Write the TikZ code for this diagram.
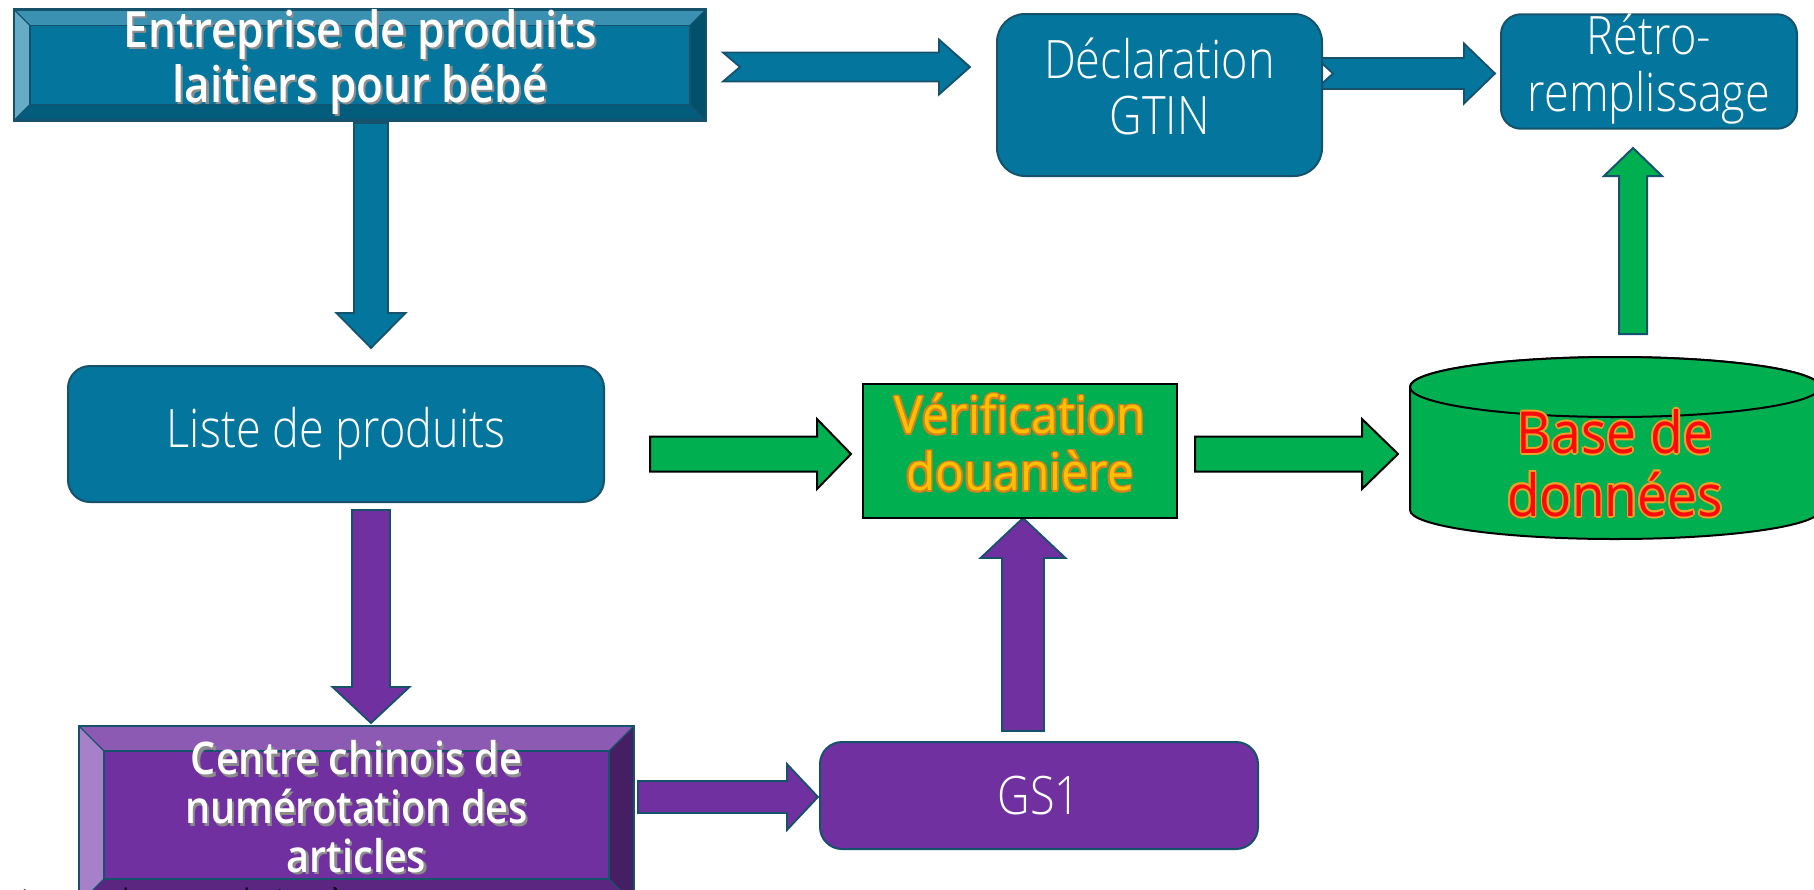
\documentclass[tikz,border=0pt]{standalone}
\usepackage{fontspec}
\setmainfont{Open Sans}
\IfFontExistsTF{Open Sans Light}
  {\newfontfamily\lightf{Open Sans Light}[FakeStretch=0.85]}
  {\newfontfamily\lightf{Open Sans}[FakeStretch=0.82]}
\newfontfamily\regf{Open Sans}[FakeStretch=0.92]
\newfontfamily\boldfx{Open Sans}[FakeStretch=0.85]
\IfFontExistsTF{Open Sans SemiBold}
  {\newfontfamily\boldf{Open Sans SemiBold}[FakeStretch=0.88]}
  {\IfFontExistsTF{Open Sans Semibold}
     {\newfontfamily\boldf{Open Sans Semibold}[FakeStretch=0.88]}
     {\def\boldf{\boldfx\bfseries}}}
\usetikzlibrary{calc}

\definecolor{tealfill}{RGB}{4,117,156}
\definecolor{tealborder}{RGB}{22,82,108}
\definecolor{tealtop}{RGB}{58,145,178}
\definecolor{tealleft}{RGB}{102,172,198}
\definecolor{tealright}{RGB}{3,80,108}
\definecolor{tealbot}{RGB}{3,92,124}
\definecolor{purplefill}{RGB}{112,48,160}
\definecolor{purpletop}{RGB}{140,90,178}
\definecolor{purpleleft}{RGB}{166,128,200}
\definecolor{purpleright}{RGB}{70,30,100}
\definecolor{purplebot}{RGB}{90,38,128}
\definecolor{greenfill}{RGB}{0,176,80}
\definecolor{goldtext}{RGB}{255,192,0}
\definecolor{goldglow}{RGB}{214,128,30}
\definecolor{redtext}{RGB}{255,10,10}
\definecolor{redglow}{RGB}{240,160,40}

% text with a coloured glow (8 offset copies underneath)
\newcommand\glowtext[3]{%
  \begingroup
  \def\gone##1##2{\makebox[0pt][l]{\hspace*{##1}\raisebox{##2}{\textcolor{#1}{\begin{tabular}{@{}c@{}}#3\end{tabular}}}}}%
  \gone{0.9pt}{0pt}\gone{-0.9pt}{0pt}\gone{0pt}{0.9pt}\gone{0pt}{-0.9pt}%
  \gone{0.65pt}{0.65pt}\gone{-0.65pt}{0.65pt}\gone{0.65pt}{-0.65pt}\gone{-0.65pt}{-0.65pt}%
  \textcolor{#2}{\begin{tabular}{@{}c@{}}#3\end{tabular}}%
  \endgroup}
% text with a soft dark shadow
\newcommand\shadowtext[1]{%
  \begingroup
  \def\gone##1##2{\makebox[0pt][l]{\hspace*{##1}\raisebox{##2}{\textcolor{black!45}{\begin{tabular}{@{}c@{}}#1\end{tabular}}}}}%
  \gone{1.1pt}{-1.1pt}%
  \textcolor{white}{\begin{tabular}{@{}c@{}}#1\end{tabular}}%
  \endgroup}

% block arrow: #1 style, #2 tail, #3 tip, #4 half shaft, #5 half head, #6 head length, #7 notch depth
\newcommand\blockarrow[7]{%
  \path ($(#3)!#6!(#2)$) coordinate (bH) ($(#2)!#7!(#3)$) coordinate (bN);
  \draw[#1] ($(#2)!#4!90:(#3)$) -- ($(bH)!#4!90:(#3)$) -- ($(bH)!#5!90:(#3)$) -- (#3)
    -- ($(bH)!#5!-90:(#3)$) -- ($(bH)!#4!-90:(#3)$) -- ($(#2)!#4!-90:(#3)$) -- (bN) -- cycle;
}

\tikzset{
  x=0.5pt, y=-0.5pt,
  tealarrow/.style={fill=tealfill, draw=tealborder, line width=0.9pt, line join=miter},
  purplearrow/.style={fill=purplefill, draw=tealborder, line width=0.9pt, line join=miter},
  greenarrow/.style={fill=greenfill, draw=black, line width=1pt, line join=miter},
  greenuparrow/.style={fill=greenfill, draw=tealborder, line width=1pt, line join=miter},
  roundbox/.style={draw=tealborder, line width=1pt, rounded corners=11pt, inner sep=0pt,
    text=white, align=center, font=\lightf\fontsize{26.5}{28}\selectfont},
  bevel/.style n args={6}{path picture={
    \fill[#2] (path picture bounding box.north west) -- (path picture bounding box.north east)
      -- ($(path picture bounding box.north east)+(-#1,#1)$) -- ($(path picture bounding box.north west)+(#1,#1)$) -- cycle;
    \fill[#3] (path picture bounding box.north west) -- ($(path picture bounding box.north west)+(#1,#1)$)
      -- ($(path picture bounding box.south west)+(#1,-#1)$) -- (path picture bounding box.south west) -- cycle;
    \fill[#4] (path picture bounding box.north east) -- ($(path picture bounding box.north east)+(-#1,#1)$)
      -- ($(path picture bounding box.south east)+(-#1,-#1)$) -- (path picture bounding box.south east) -- cycle;
    \fill[#5] (path picture bounding box.south west) -- ($(path picture bounding box.south west)+(#1,-#1)$)
      -- ($(path picture bounding box.south east)+(-#1,-#1)$) -- (path picture bounding box.south east) -- cycle;
    \draw[#6, line width=0.9pt] ($(path picture bounding box.north west)+(#1,#1)$) rectangle ($(path picture bounding box.south east)+(-#1,-#1)$);
    \draw[#6, line width=0.6pt] (path picture bounding box.north west) -- ($(path picture bounding box.north west)+(#1,#1)$)
      (path picture bounding box.north east) -- ($(path picture bounding box.north east)+(-#1,#1)$)
      (path picture bounding box.south west) -- ($(path picture bounding box.south west)+(#1,-#1)$)
      (path picture bounding box.south east) -- ($(path picture bounding box.south east)+(-#1,-#1)$);
  }},
  bevelbox/.style={inner sep=0pt, line width=1.2pt},
}

\begin{document}
\begin{tikzpicture}
\useasboundingbox (0,0) rectangle (1814,889);
\clip (0,0) rectangle (1814,889);

% ---- arrow end points ----
\coordinate (a1s) at (723,67);   \coordinate (a1e) at (970,67);
\coordinate (a2s) at (1316,73.5); \coordinate (a2e) at (1495,73.5);
\coordinate (a3s) at (371,123);  \coordinate (a3e) at (371,348);
\coordinate (a4s) at (650,454);  \coordinate (a4e) at (851,454);
\coordinate (a5s) at (1195,454); \coordinate (a5e) at (1398,454);
\coordinate (a6s) at (1633,334); \coordinate (a6e) at (1633,148);
\coordinate (a7s) at (371,510);  \coordinate (a7e) at (371,723);
\coordinate (a8s) at (638,797);  \coordinate (a8e) at (818,797);
\coordinate (a9s) at (1023,731); \coordinate (a9e) at (1023,518);

% ---- block arrows ----
\blockarrow{tealarrow}{a1s}{a1e}{7.25pt}{13.75pt}{15.5pt}{8.5pt}
\blockarrow{tealarrow}{a2s}{a2e}{7.75pt}{15pt}{15.5pt}{8.5pt}
\blockarrow{tealarrow}{a3s}{a3e}{8.5pt}{17.25pt}{17.5pt}{0pt}
\blockarrow{greenarrow}{a4s}{a4e}{8.75pt}{17.5pt}{17pt}{0pt}
\blockarrow{greenarrow}{a5s}{a5e}{8.75pt}{17.5pt}{18pt}{0pt}
\blockarrow{greenuparrow}{a6s}{a6e}{7pt}{14.5pt}{14pt}{0pt}
\blockarrow{purplearrow}{a7s}{a7e}{9.5pt}{19.25pt}{18pt}{0pt}
\blockarrow{purplearrow}{a8s}{a8e}{8pt}{16.5pt}{15.5pt}{0pt}
\blockarrow{purplearrow}{a9s}{a9e}{10.5pt}{21.25pt}{20pt}{0pt}

% ---- nodes ----
\node[bevelbox, draw=tealborder, fill=tealfill,
      bevel={16}{tealtop}{tealleft}{tealright}{tealbot}{tealborder},
      minimum width=346pt, minimum height=51pt,
      font=\boldf\fontsize{25}{27}\selectfont] (ent) at (360,65)
  {\shadowtext{Entreprise de produits\\laitiers pour bébé}};

\node[roundbox, fill=tealfill, rounded corners=14pt, minimum width=162.5pt, minimum height=81pt]
  (decl) at (1159.5,95) {\raisebox{-0.5pt}{\begin{tabular}{@{}c@{}}Déclaration\\GTIN\end{tabular}}};

\node[roundbox, fill=tealfill, rounded corners=10pt, minimum width=148pt, minimum height=55.5pt]
  (retro) at (1649,71.5) {\raisebox{-3pt}{\begin{tabular}{@{}c@{}}Rétro-\\remplissage\end{tabular}}};

\node[roundbox, fill=tealfill, minimum width=268pt, minimum height=68pt]
  (liste) at (336,434) {\raisebox{-2pt}{Liste de produits}};

\node[draw=black, line width=1pt, fill=greenfill, inner sep=0pt, minimum width=157pt, minimum height=67pt,
      font=\regf\fontsize{26}{28.5}\selectfont]
  (verif) at (1020,451) {\raisebox{-4pt}{\glowtext{goldglow}{goldtext}{Vérification\\douanière}}};

\node[roundbox, fill=purplefill, minimum width=219pt, minimum height=53.5pt]
  (gs1) at (1039,795.5) {\raisebox{-1pt}{GS1}};

% cylinder
\draw[fill=greenfill, draw=black, line width=1pt]
  (1410,387) -- (1410,510) arc[start angle=180, end angle=0, x radius=205, y radius=29]
  -- (1820,387) arc[start angle=0, end angle=-180, x radius=205, y radius=30] -- cycle;
\draw[fill=greenfill, draw=black, line width=1pt] (1615,387) ellipse [x radius=205, y radius=30];
\node[font=\regf\fontsize{29}{30.5}\selectfont, inner sep=0pt, minimum width=205pt, minimum height=91pt]
  (base) at (1615,472) {\glowtext{redglow}{redtext}{Base de\\données}};

\node[bevelbox, draw=tealborder, fill=purplefill,
      bevel={25}{purpletop}{purpleleft}{purpleright}{purplebot}{tealborder},
      minimum width=277.5pt, minimum height=89pt,
      font=\boldf\fontsize{22.5}{24.25}\selectfont] (centre) at (356.5,815)
  {\raisebox{3.25pt}{\shadowtext{Centre chinois de\\numérotation des\\articles}}};

\node[anchor=base west, inner sep=0pt, text=black, font=\lightf\fontsize{24}{24}\selectfont]
  (cut) at (6,924) {tions de produits à};
\end{tikzpicture}
\end{document}
